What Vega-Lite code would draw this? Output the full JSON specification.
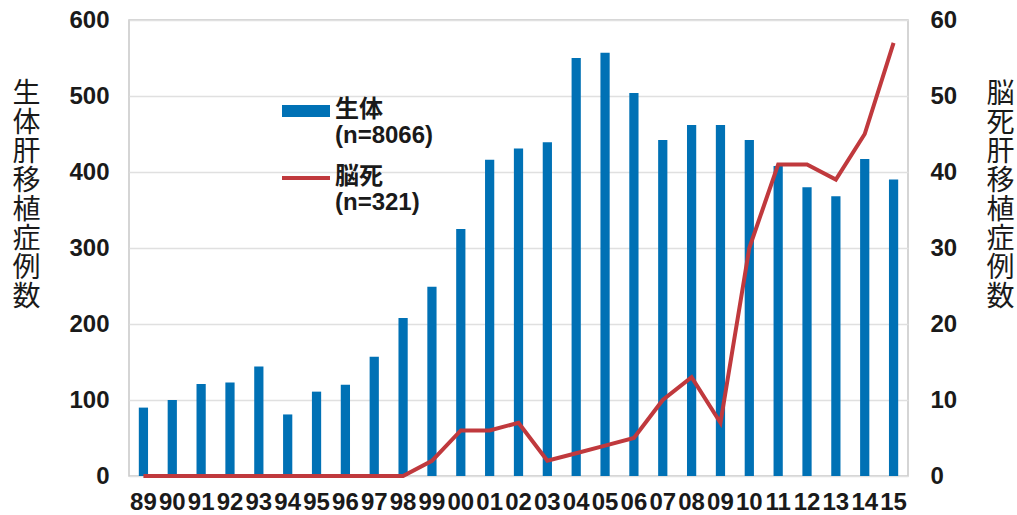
{
  "$schema": "https://vega.github.io/schema/vega-lite/v6.json",
  "width": 779,
  "height": 456,
  "autosize": {"type": "none"},
  "padding": {"left": 129, "top": 20, "right": 109, "bottom": 39},
  "background": "white",
  "config": {
    "font": "Liberation Sans, Noto Sans CJK JP",
    "view": {"stroke": "#c8c8c8", "strokeWidth": 1.5}
  },
  "data": {
    "values": [
      {"year": "89", "living": 90, "brain": 0},
      {"year": "90", "living": 100, "brain": 0},
      {"year": "91", "living": 121, "brain": 0},
      {"year": "92", "living": 123, "brain": 0},
      {"year": "93", "living": 144, "brain": 0},
      {"year": "94", "living": 81, "brain": 0},
      {"year": "95", "living": 111, "brain": 0},
      {"year": "96", "living": 120, "brain": 0},
      {"year": "97", "living": 157, "brain": 0},
      {"year": "98", "living": 208, "brain": 0},
      {"year": "99", "living": 249, "brain": 2},
      {"year": "00", "living": 325, "brain": 6},
      {"year": "01", "living": 416, "brain": 6},
      {"year": "02", "living": 431, "brain": 7},
      {"year": "03", "living": 439, "brain": 2},
      {"year": "04", "living": 550, "brain": 3},
      {"year": "05", "living": 557, "brain": 4},
      {"year": "06", "living": 504, "brain": 5},
      {"year": "07", "living": 442, "brain": 10},
      {"year": "08", "living": 462, "brain": 13},
      {"year": "09", "living": 462, "brain": 7},
      {"year": "10", "living": 442, "brain": 30},
      {"year": "11", "living": 408, "brain": 41},
      {"year": "12", "living": 380, "brain": 41},
      {"year": "13", "living": 368, "brain": 39},
      {"year": "14", "living": 417, "brain": 45},
      {"year": "15", "living": 390, "brain": 57}
    ]
  },
  "encoding": {
    "x": {
      "field": "year",
      "type": "ordinal",
      "sort": null,
      "scale": {"paddingInner": 0, "paddingOuter": 0},
      "axis": {
        "title": null,
        "labelAngle": 0,
        "labelFontSize": 24,
        "labelFontWeight": "bold",
        "labelColor": "#1a1a1a",
        "labelPadding": 14,
        "ticks": false,
        "domain": false
      }
    }
  },
  "layer": [
    {
      "mark": {"type": "bar", "width": {"band": 0.32}},
      "encoding": {
        "y": {
          "field": "living",
          "type": "quantitative",
          "scale": {"domain": [0, 600], "nice": false},
          "axis": {
            "values": [0, 100, 200, 300, 400, 500, 600],
            "title": ["生", "体", "肝", "移", "植", "症", "例", "数"],
            "titleAngle": 0,
            "titleAlign": "center",
            "titleBaseline": "top",
            "titleX": -103,
            "titleY": 60,
            "titleFontSize": 28,
            "titleFontWeight": "normal",
            "titleLineHeight": 29,
            "titleColor": "#1a1a1a",
            "labelFontSize": 24,
            "labelFontWeight": "bold",
            "labelColor": "#1a1a1a",
            "labelPadding": 20,
            "ticks": false,
            "domain": false,
            "gridColor": "#e0e0e0",
            "gridWidth": 1.5
          }
        },
        "color": {
          "datum": "生体",
          "type": "nominal",
          "scale": {"domain": ["生体", "脳死"], "range": ["#0071b5", "#c0393d"]},
          "legend": {
            "orient": "none",
            "legendX": 153,
            "legendY": 67,
            "title": null,
            "padding": 0,
            "symbolSize": 2304,
            "labelFontSize": 24,
            "labelFontWeight": "bold",
            "labelColor": "#1a1a1a",
            "labelLineHeight": 30,
            "labelBaseline": "top",
            "labelOffset": 5,
            "labelLimit": 300,
            "rowPadding": 6,
            "labelExpr": "datum.label == '生体' ? ['生体','(n=8066)'] : ['脳死','(n=321)']",
            "encode": {
              "symbols": {
                "update": {
                  "shape": [
                    {"test": "datum.label == '生体'", "value": "M-1,-0.25H1V0.25H-1Z"},
                    {"value": "M-1,-0.085H1V0.085H-1Z"}
                  ],
                  "fill": [
                    {"test": "datum.label == '生体'", "value": "#0071b5"},
                    {"value": "#c0393d"}
                  ],
                  "stroke": {"value": "transparent"},
                  "strokeWidth": {"value": 0}
                }
              },
              "labels": {"update": {"dy": {"value": -13}}}
            }
          }
        }
      }
    },
    {
      "mark": {"type": "line", "strokeWidth": 4, "color": "#c0393d"},
      "encoding": {
        "y": {
          "field": "brain",
          "type": "quantitative",
          "scale": {"domain": [0, 60], "nice": false},
          "axis": {
            "orient": "right",
            "values": [0, 10, 20, 30, 40, 50, 60],
            "grid": false,
            "title": ["脳", "死", "肝", "移", "植", "症", "例", "数"],
            "titleAngle": 0,
            "titleAlign": "center",
            "titleBaseline": "top",
            "titleX": 92,
            "titleY": 60,
            "titleFontSize": 28,
            "titleFontWeight": "normal",
            "titleLineHeight": 29,
            "titleColor": "#1a1a1a",
            "labelFontSize": 24,
            "labelFontWeight": "bold",
            "labelColor": "#1a1a1a",
            "labelPadding": 22,
            "ticks": false,
            "domain": false
          }
        },
        "color": {"datum": "脳死", "type": "nominal"}
      }
    }
  ],
  "resolve": {"scale": {"y": "independent"}}
}
